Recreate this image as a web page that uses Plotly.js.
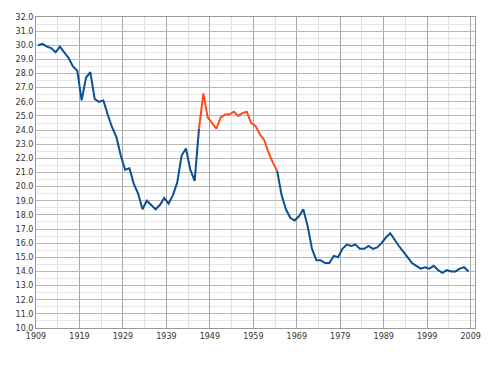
<!DOCTYPE html>
<html>
<head>
<meta charset="utf-8">
<script src="https://cdn.plot.ly/plotly-3.0.1.min.js"></script>
<style>html,body{margin:0;padding:0;background:#fff;}#chart{width:500px;height:377px;}</style>
</head>
<body>
<div id="chart"></div>
<script>
// US crude birth rate (per 1000), 1909-2008
const years = [];
for (let y = 1909; y <= 2008; y++) years.push(y);
const birthRate = [
  30.0, 30.1, 29.9, 29.8, 29.5, 29.9, 29.5, 29.1, 28.5, 28.2,
  26.1, 27.7, 28.1, 26.2, 26.0, 26.1, 25.1, 24.2, 23.5, 22.2,
  21.2, 21.3, 20.2, 19.5, 18.4, 19.0, 18.7, 18.4, 18.7, 19.2,
  18.8, 19.4, 20.3, 22.2, 22.7, 21.2, 20.4, 24.1, 26.6, 24.9,
  24.5, 24.1, 24.9, 25.1, 25.1, 25.3, 25.0, 25.2, 25.3, 24.5,
  24.3, 23.7, 23.3, 22.4, 21.7, 21.1, 19.4, 18.4, 17.8, 17.6,
  17.9, 18.4, 17.2, 15.6, 14.8, 14.8, 14.6, 14.6, 15.1, 15.0,
  15.6, 15.9, 15.8, 15.9, 15.6, 15.6, 15.8, 15.6, 15.7, 16.0,
  16.4, 16.7, 16.2, 15.8, 15.4, 15.0, 14.6, 14.4, 14.2, 14.3,
  14.2, 14.4, 14.1, 13.9, 14.1, 14.0, 14.0, 14.2, 14.3, 14.0
];
const boomStart = 1946, boomEnd = 1964;
const xTickVals = [1909, 1919, 1929, 1939, 1949, 1959, 1969, 1979, 1989, 1999, 2009];

const mid = years.map(y => y + 0.5); // plotted at mid-year
function seg(a, b) {
  const x = [], y = [];
  years.forEach((yr, i) => { if (yr >= a && yr <= b) { x.push(mid[i]); y.push(birthRate[i]); } });
  return {x, y};
}
const pre = seg(1909, boomStart), boom = seg(boomStart, boomEnd), post = seg(boomEnd, 2008);
const blue = '#0b4f94', red = '#ff4a1a';
const traces = [
  {x: pre.x, y: pre.y, mode: 'lines', line: {color: blue, width: 2}, hoverinfo: 'skip'},
  {x: boom.x, y: boom.y, mode: 'lines', line: {color: red, width: 2}, hoverinfo: 'skip'},
  {x: post.x, y: post.y, mode: 'lines', line: {color: blue, width: 2}, hoverinfo: 'skip'}
];
const layout = {
  width: 500, height: 377,
  margin: {l: 36, r: 25, t: 17, b: 49},
  paper_bgcolor: '#fff', plot_bgcolor: '#fff',
  showlegend: false,
  font: {family: 'DejaVu Sans', size: 8, color: '#333'},
  xaxis: {
    range: [1909, 2010], tickvals: xTickVals, ticktext: xTickVals.map(String),
    showgrid: true, gridcolor: '#a8a8a8', gridwidth: 1,
    minor: {tickvals: xTickVals.map(v => v + 5), showgrid: true, gridcolor: '#e2e2e2', ticklen: 0},
    showline: true, linecolor: '#999', linewidth: 1, mirror: true,
    zeroline: false, ticks: '', fixedrange: true
  },
  yaxis: {
    range: [10, 32], dtick: 1, tick0: 10, tickformat: '.1f',
    showgrid: true, gridcolor: '#b8b8b8', gridwidth: 1,
    minor: {dtick: 0.5, showgrid: true, gridcolor: '#e8e8e8', ticklen: 0},
    showline: true, linecolor: '#999', linewidth: 1, mirror: true,
    zeroline: false, ticks: '', fixedrange: true
  }
};
Plotly.newPlot('chart', traces, layout, {staticPlot: true});
</script>
</body>
</html>
